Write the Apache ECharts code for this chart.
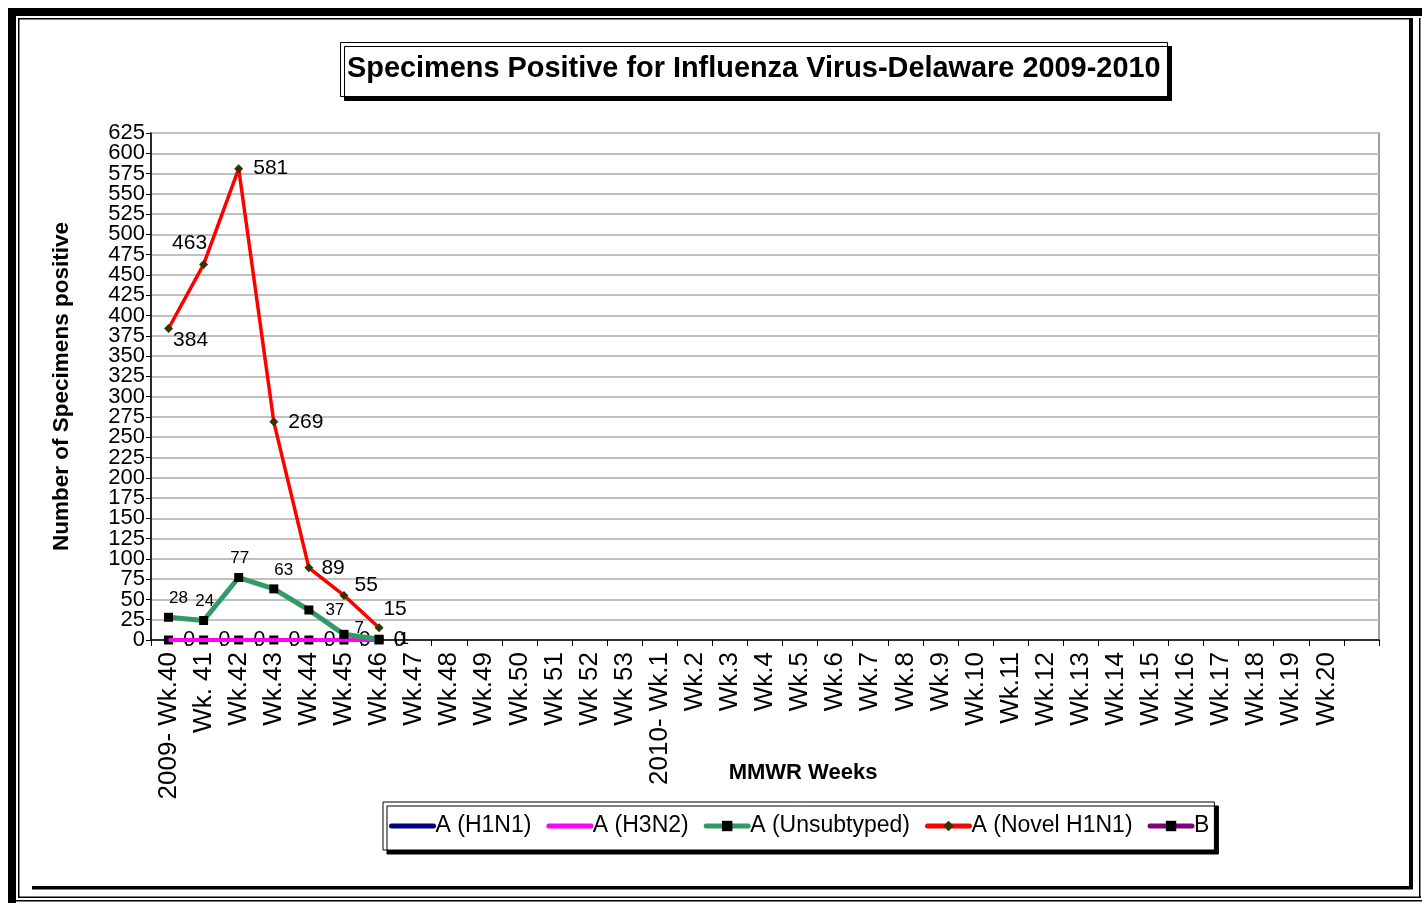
<!DOCTYPE html>
<html>
<head>
<meta charset="utf-8">
<title>Specimens Positive for Influenza Virus-Delaware 2009-2010</title>
<script src="https://cdn.jsdelivr.net/npm/echarts@6/dist/echarts.min.js"></script>
<style>
  html, body { margin: 0; padding: 0; background: #fff; }
  #chart { width: 1422px; height: 903px; }
</style>
</head>
<body>
<div id="chart"></div>
<script>
const weeks = [
  '2009- Wk.40', 'Wk. 41', 'Wk.42', 'Wk.43', 'Wk.44', 'Wk.45', 'Wk.46', 'Wk.47',
  'Wk.48', 'Wk.49', 'Wk.50', 'Wk 51', 'Wk 52', 'Wk 53', '2010- Wk.1', 'Wk.2',
  'Wk.3', 'Wk.4', 'Wk.5', 'Wk.6', 'Wk.7', 'Wk.8', 'Wk.9', 'Wk.10', 'Wk.11',
  'Wk.12', 'Wk.13', 'Wk.14', 'Wk.15', 'Wk.16', 'Wk.17', 'Wk.18', 'Wk.19', 'Wk.20', ''
];

const yTickLabels = [
  '0', '25', '50', '75', '100', '125', '150', '175', '200', '225', '250', '275', '300',
  '325', '350', '375', '400', '425', '450', '475', '500', '525', '550', '575', '600', '625'
];

const aH1N1 = [0, 0, 0, 0, 0, 0, 0];
const aH3N2 = [0, 0, 0, 0, 0, 0, 0];
const aUnsubtyped = [28, 24, 77, 63, 37, 7, 1];
const aNovelH1N1 = [384, 463, 581, 269, 89, 55, 15];
const fluB = [0, 0, 0, 0, 0, 0, 0];

const FONT = '"Liberation Sans", Arial, sans-serif';

// per-point label placement, roughly where Excel put them
const novelLabelPos = [
  { position: 'right', offset: [-6, 12] },
  { position: 'top', offset: [-14, 0] },
  { position: 'right', offset: [4, 0] },
  { position: 'right', offset: [4, 0] },
  { position: 'right', offset: [2, 0] },
  { position: 'right', offset: [0, -10] },
  { position: 'top', offset: [16, 2] }
];
const unsubLabelPos = [
  { position: 'top', offset: [10, 0] },
  { position: 'top', offset: [1, 0] },
  { position: 'top', offset: [1, 0] },
  { position: 'top', offset: [10, 0] },
  { position: 'right', offset: [6, 0] },
  { position: 'right', offset: [0, -6] },
  { position: 'right', offset: [10, 0] }
];

const chart = echarts.init(document.getElementById('chart'));

const withLabels = (values, placements, fontSize) =>
  values.map((v, i) => ({
    value: v,
    label: { show: true, fontSize, ...placements[i] }
  }));

const frame = [
  [8, 8, 8, 895],
  [8, 8, 1414, 8],
  [18, 18, 1392, 1.5],
  [18, 18, 1.5, 879],
  [1409, 18, 4, 871],
  [32, 886, 1381, 3.5],
  [1419, 18, 1.5, 880],
  [18, 896.5, 1403, 1.5],
  [16, 900, 1406, 1.5]
];

chart.setOption({
  animation: false,
  textStyle: { fontFamily: FONT, color: '#000' },
  graphic: frame.map(([x, y, w, h]) => ({
    type: 'rect',
    shape: { x, y, width: w, height: h },
    style: { fill: '#000' },
    silent: true
  })),
  title: {
    text: 'Specimens Positive for Influenza Virus-Delaware 2009-2010',
    left: 340,
    top: 42,
    padding: [12, 7, 12, 7],
    backgroundColor: '#fff',
    borderColor: '#000',
    borderWidth: 1,
    shadowColor: '#000',
    shadowBlur: 0,
    shadowOffsetX: 4,
    shadowOffsetY: 4,
    textStyle: {
      fontFamily: FONT,
      fontSize: 28.9,
      lineHeight: 31,
      fontWeight: 'bold',
      color: '#000'
    }
  },
  legend: {
    left: 383,
    top: 802,
    padding: [12, 5, 12, 6],
    itemWidth: 42,
    itemHeight: 13,
    itemGap: 15,
    backgroundColor: '#fff',
    borderColor: '#000',
    borderWidth: 1,
    shadowColor: '#000',
    shadowBlur: 0,
    shadowOffsetX: 4,
    shadowOffsetY: 4,
    lineStyle: { width: 5, cap: 'round' },
    textStyle: { fontFamily: FONT, fontSize: 23, lineHeight: 24, color: '#000', padding: [0, 0, 0, -3] },
    data: [
      { name: 'A (H1N1)', itemStyle: { opacity: 0 } },
      { name: 'A (H3N2)', itemStyle: { opacity: 0 } },
      'A (Unsubtyped)',
      'A (Novel H1N1)',
      'B'
    ]
  },
  grid: {
    left: 151,
    right: 43,
    top: 133,
    bottom: 263,
    show: true,
    borderColor: '#808080',
    borderWidth: 1.5,
    backgroundColor: 'transparent'
  },
  xAxis: {
    type: 'category',
    data: weeks,
    boundaryGap: true,
    name: 'MMWR Weeks',
    nameLocation: 'middle',
    nameGap: 122,
    nameMoveOverlap: false,
    nameTextStyle: {
      fontFamily: FONT,
      fontSize: 22,
      fontWeight: 'bold',
      color: '#000',
      padding: [0, 0, 0, 76]
    },
    axisLine: { lineStyle: { color: '#000', width: 1.5 } },
    axisTick: { show: true, length: 6, lineStyle: { color: '#000' } },
    axisLabel: {
      interval: 0,
      rotate: 90,
      fontFamily: FONT,
      fontSize: 26,
      color: '#000',
      margin: 12
    },
    splitLine: { show: false }
  },
  yAxis: [
    {
      type: 'value',
      min: 0,
      max: 625,
      interval: 25,
      name: 'Number of Specimens positive',
      nameLocation: 'middle',
      nameGap: 78,
      nameMoveOverlap: false,
      nameTextStyle: {
        fontFamily: FONT,
        fontSize: 22.5,
        fontWeight: 'bold',
        color: '#000'
      },
      axisLine: { show: true, lineStyle: { color: '#000', width: 1.5 } },
      axisTick: { show: true, length: 5, lineStyle: { color: '#000' } },
      axisLabel: { show: false },
      splitLine: { lineStyle: { color: '#c0c0c0', width: 2 } }
    },
    {
      // tick labels only, so that every one of them is drawn
      type: 'category',
      data: yTickLabels,
      position: 'left',
      boundaryGap: false,
      axisLine: { show: false },
      axisTick: { show: false },
      splitLine: { show: false },
      axisLabel: {
        interval: 0,
        fontFamily: FONT,
        fontSize: 22,
        color: '#000',
        margin: 6
      }
    }
  ],
  series: [
    {
      name: 'A (H1N1)',
      type: 'line',
      data: aH1N1,
      symbol: 'none',
      z: 2,
      itemStyle: { color: '#000080' },
      lineStyle: { color: '#000080', width: 4 }
    },
    {
      name: 'B',
      type: 'line',
      data: fluB,
      symbol: 'rect',
      symbolSize: 9,
      z: 3,
      itemStyle: { color: '#000' },
      lineStyle: { color: '#800080', width: 4 },
      label: {
        show: true,
        position: 'right',
        distance: 10,
        fontSize: 22,
        color: '#000'
      }
    },
    {
      name: 'A (H3N2)',
      type: 'line',
      data: aH3N2,
      symbol: 'none',
      z: 4,
      itemStyle: { color: '#ff00ff' },
      lineStyle: { color: '#ff00ff', width: 4 }
    },
    {
      name: 'A (Unsubtyped)',
      type: 'line',
      data: withLabels(aUnsubtyped, unsubLabelPos, 17),
      symbol: 'rect',
      symbolSize: 9,
      z: 5,
      itemStyle: { color: '#000' },
      lineStyle: { color: '#339966', width: 5 },
      label: { color: '#000', distance: 6 }
    },
    {
      name: 'A (Novel H1N1)',
      type: 'line',
      data: withLabels(aNovelH1N1, novelLabelPos, 21),
      symbol: 'diamond',
      symbolSize: 9,
      z: 6,
      itemStyle: { color: '#333300' },
      lineStyle: { color: '#ff0000', width: 3.5 },
      label: { color: '#000', distance: 6 }
    }
  ]
});
</script>
</body>
</html>
